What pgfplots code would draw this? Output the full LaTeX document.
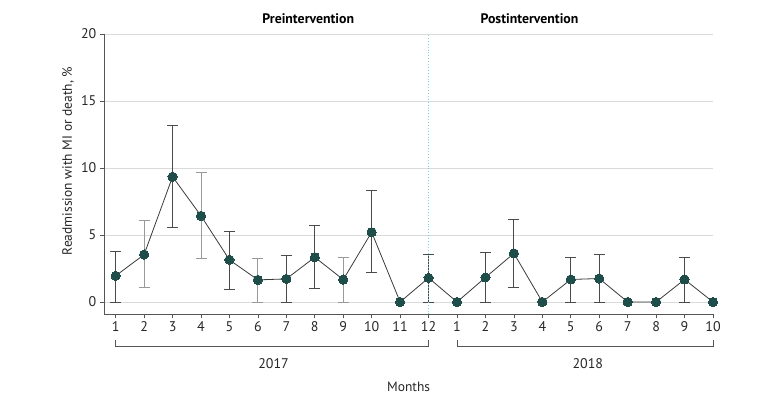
\documentclass[border=0pt]{standalone}
\usepackage{pgfplots}
\pgfplotsset{compat=1.18}
\usepackage{fontspec}
\setmainfont{PT Sans}
\definecolor{markc}{HTML}{1F4D4A}
\definecolor{linec}{HTML}{3A3A3A}
\definecolor{errd}{HTML}{4A4A4A}
\definecolor{errl}{HTML}{9A9A9A}
\definecolor{gridc}{HTML}{DADADA}
\definecolor{axc}{HTML}{555555}
\definecolor{vline}{HTML}{6FD6DE}
\newcommand{\fs}{\fontsize{13.5}{15}\selectfont}
\newcommand{\ft}{\fontsize{14}{16}\selectfont}
\begin{document}
\begin{tikzpicture}
\path[use as bounding box] (0,0) rectangle (780pt,405pt);
\begin{axis}[
  at={(104.3pt,90.7pt)}, anchor=south west,
  scale only axis, width=608.7pt, height=280.3pt,
  xmin=0.6, xmax=22, ymin=-0.92, ymax=20,
  clip=false,
  axis x line*=bottom, axis y line*=left,
  axis line style={draw=axc, line width=0.8pt, -},
  ymajorgrids, grid style={draw=gridc, line width=0.9pt},
  ytick={0,5,10,15,20},
  xtick={1,...,22},
  xticklabels={1,2,3,4,5,6,7,8,9,10,11,12,1,2,3,4,5,6,7,8,9,10},
  tick align=outside, major tick length=4pt,
  tick style={draw=axc, line width=0.7pt},
  /pgf/number format/assume math mode=true,
  tick label style={font=\ft, text=black!85},
  xticklabel style={yshift=0pt},
  yticklabel style={xshift=-0.5pt},
  ylabel={Readmission with MI or death, \%},
  ylabel style={at={(axis description cs:-0.0596,0.547)}, anchor=center, font=\fs, text=black!85},
  xlabel={Months},
  xlabel style={at={(axis description cs:0.5,0)}, yshift=-72.7pt, anchor=center, font=\fs, text=black!85},
]
% dark error bars
\addplot[draw=none, mark=none, forget plot,
  error bars/.cd, y dir=both, y explicit,
  error bar style={draw=errd, line width=0.9pt},
  error mark options={draw=errd, line width=0.9pt, mark size=5.5pt, rotate=90}]
  table[x=x, y=y, y error plus=ep, y error minus=em] {
x y ep em
1 1.95 1.79 1.95
3 9.35 3.85 3.76
5 3.14 2.12 2.22
7 1.72 1.75 1.72
8 3.34 2.35 2.34
10 5.21 3.09 2.99
12 1.80 1.77 1.80
14 1.83 1.85 1.83
15 3.63 2.55 2.55
17 1.68 1.62 1.68
18 1.75 1.80 1.75
21 1.68 1.65 1.68
};
% light error bars
\addplot[draw=none, mark=none, forget plot,
  error bars/.cd, y dir=both, y explicit,
  error bar style={draw=errl, line width=0.9pt},
  error mark options={draw=errl, line width=0.9pt, mark size=5.5pt, rotate=90}]
  table[x=x, y=y, y error plus=ep, y error minus=em] {
x y ep em
2 3.54 2.52 2.49
4 6.43 3.20 3.19
6 1.65 1.62 1.65
9 1.67 1.67 1.67
};
% series
\addplot[draw=linec, line width=0.8pt, mark=*, mark size=4.6pt,
  mark options={fill=markc, draw=markc, line width=0pt}]
  table[x=x, y=y] {
x y
1 1.95
2 3.54
3 9.35
4 6.43
5 3.14
6 1.65
7 1.72
8 3.34
9 1.67
10 5.21
11 0
12 1.80
13 0
14 1.83
15 3.63
16 0
17 1.68
18 1.75
19 0
20 0
21 1.68
22 0
};
% intervention line
\draw[vline, dotted, line width=0.9pt] (axis cs:12,-0.92) -- (axis cs:12,20);
% period titles
\node[font=\fontsize{13.8}{15}\selectfont\bfseries, anchor=center] at (axis cs:7.77,21.12) {Preintervention};
\node[font=\fontsize{13.8}{15}\selectfont\bfseries, anchor=center] at (axis cs:15.55,21.12) {Postintervention};
% year brackets
\draw[axc, line width=0.8pt] (axis cs:1,-2.84) -- (axis cs:1,-3.34) -- (axis cs:12,-3.34) -- (axis cs:12,-2.84);
\draw[axc, line width=0.8pt] (axis cs:13,-2.84) -- (axis cs:13,-3.34) -- (axis cs:22,-3.34) -- (axis cs:22,-2.84);
\node[font=\ft, text=black!85] at (axis cs:6.55,-4.63) {2017};
\node[font=\ft, text=black!85] at (axis cs:17.6,-4.63) {2018};
\end{axis}
\end{tikzpicture}
\end{document}
